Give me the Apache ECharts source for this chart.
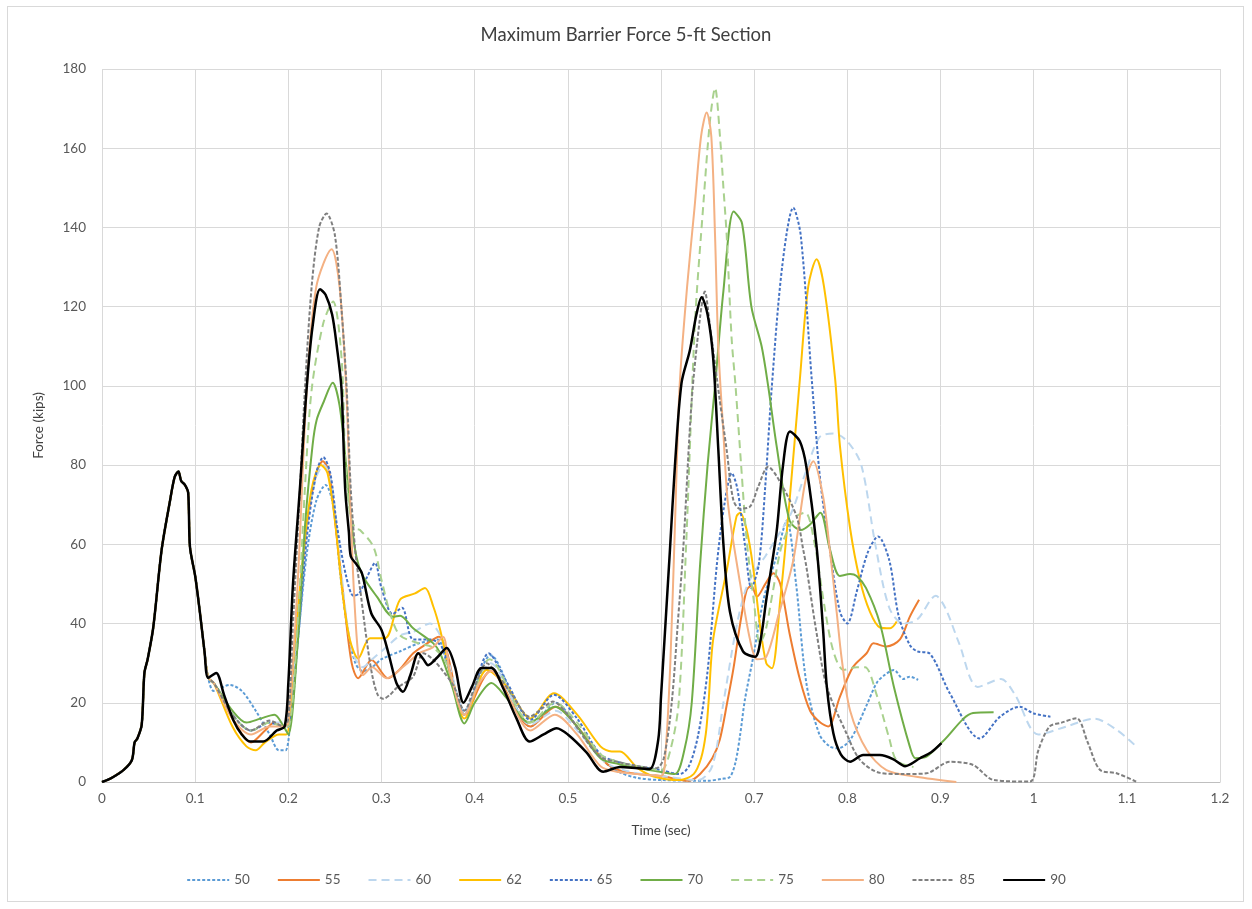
<!DOCTYPE html>
<html>
<head>
<meta charset="utf-8">
<script src="https://cdn.jsdelivr.net/npm/echarts@6/dist/echarts.min.js"></script>
<style>
html,body{margin:0;padding:0;background:#fff;}
#frame{position:absolute;left:7px;top:6px;width:1237px;height:896px;border:1px solid #d9d9d9;box-sizing:border-box;}
#chart{position:absolute;left:0;top:0;width:1252px;height:909px;}
</style>
</head>
<body>
<div id="frame"></div>
<div id="chart"></div>
<script>
// ---- Data (time in sec, force in kips) ----
const seriesNames = ['50','55','60','62','65','70','75','80','85','90'];
const xTicks = [0,0.1,0.2,0.3,0.4,0.5,0.6,0.7,0.8,0.9,1,1.1,1.2];
const yTicks = [0,20,40,60,80,100,120,140,160,180];

// first impact, identical for every test
const common = [[0,0],[0.01,1],[0.023,3],[0.032,5.5],[0.035,10],[0.038,11],[0.0426,14.4],[0.0455,27.5],[0.049,31],[0.055,39],[0.064,58.6],[0.073,71],[0.078,77],[0.082,78.4],[0.085,76],[0.089,75],[0.0925,73],[0.0944,59.4],[0.1,52],[0.105,43],[0.11,33],[0.114,26.3]];

const s50 = [[0.12,23],[0.137,24.5],[0.15,23],[0.165,18],[0.18,12],[0.19,8],[0.197,8],[0.202,15],[0.21,35],[0.22,58],[0.23,71],[0.24,75],[0.248,70],[0.256,52],[0.264,38],[0.272,30],[0.28,28],[0.29,29],[0.3,31],[0.32,33],[0.34,35],[0.36,36],[0.37,30],[0.389,18],[0.417,32],[0.46,14],[0.487,20],[0.51,14],[0.54,5],[0.555,2.5],[0.575,1],[0.6,0.5],[0.65,0.3],[0.665,0.8],[0.674,1.3],[0.68,5],[0.685,12],[0.69,20.7],[0.699,31.6],[0.71,46],[0.724,57],[0.735,66],[0.745,50],[0.756,25],[0.77,12],[0.781,9],[0.79,8.5],[0.803,10.6],[0.82,19],[0.8315,25],[0.84,27],[0.85,28.3],[0.86,26],[0.867,26.6],[0.876,25.8]];

const s55 = [[0.12,25],[0.14,16],[0.16,10],[0.175,13],[0.185,15],[0.195,14],[0.2,15],[0.21,40],[0.22,65],[0.23,78],[0.237,81],[0.244,78],[0.252,62],[0.26,45],[0.268,30],[0.275,26.2],[0.2894,30.8],[0.307,26.2],[0.319,28.3],[0.334,32.5],[0.3466,34.6],[0.3618,36.7],[0.37,33],[0.389,17],[0.417,28],[0.46,14],[0.487,19],[0.51,14],[0.54,5],[0.555,3],[0.575,2],[0.6,1.5],[0.63,0.3],[0.642,2],[0.655,6],[0.663,10.6],[0.671,20],[0.678,29],[0.685,40],[0.692,48.5],[0.697,49.5],[0.703,46.8],[0.712,50],[0.7206,52.7],[0.728,50],[0.738,37.5],[0.749,26],[0.76,18],[0.771,15],[0.7795,14],[0.792,21.5],[0.806,29],[0.8207,32.5],[0.828,35],[0.842,34.2],[0.8565,36],[0.867,41.7],[0.877,46]];

const s60 = [[0.12,25],[0.14,17],[0.16,13],[0.18,15],[0.195,15],[0.2,16],[0.21,40],[0.22,65],[0.23,77],[0.238,80],[0.246,76],[0.254,60],[0.262,42],[0.27,32],[0.28,29],[0.29,31],[0.305,34],[0.32,37],[0.335,38],[0.352,40],[0.365,36],[0.378,25],[0.389,18],[0.417,30],[0.46,14.5],[0.487,18],[0.51,13],[0.54,5],[0.56,3],[0.58,2],[0.6,1.5],[0.64,0.5],[0.655,4],[0.667,20],[0.68,38],[0.69,48],[0.7,53],[0.712,57],[0.725,62],[0.74,68],[0.755,78],[0.77,87],[0.785,88],[0.8,86],[0.815,80],[0.83,60],[0.845,44],[0.86,40],[0.875,41],[0.895,47],[0.905,44],[0.92,35],[0.94,24],[0.965,26],[0.98,22],[1.005,12],[1.035,14],[1.065,16],[1.09,13],[1.11,9]];

const s62 = [[0.12,25],[0.14,14],[0.155,9],[0.165,8],[0.175,10],[0.19,12],[0.198,12],[0.205,30],[0.215,55],[0.225,74],[0.235,80],[0.242,78],[0.25,66],[0.258,48],[0.266,36],[0.275,31.2],[0.2876,36.3],[0.3038,36.3],[0.3198,46],[0.336,47.6],[0.3467,49],[0.3556,44.3],[0.363,38.4],[0.375,26],[0.389,16],[0.4128,28.3],[0.435,24],[0.46,16],[0.485,22.4],[0.51,17],[0.535,9],[0.547,7.7],[0.556,7.7],[0.574,3.7],[0.592,1.4],[0.62,0.5],[0.635,2],[0.643,6],[0.648,12],[0.651,20],[0.656,36],[0.671,54],[0.681,67],[0.685,68],[0.692,63.6],[0.699,54],[0.706,40],[0.713,30],[0.719,28.7],[0.728,46],[0.738,71],[0.749,101.5],[0.758,125],[0.767,132],[0.775,125],[0.787,101.5],[0.792,85],[0.803,64],[0.8135,51],[0.8242,43],[0.835,39],[0.846,38.8],[0.853,40.5]];

const s65 = [[0.12,25],[0.14,17],[0.16,13],[0.18,15],[0.195,14],[0.2,14],[0.21,35],[0.22,62],[0.23,78],[0.2375,82],[0.245,78],[0.252,65],[0.262,52],[0.27,47],[0.276,47.6],[0.285,52],[0.293,55.3],[0.3,49],[0.312,42.4],[0.322,44],[0.334,36],[0.352,36],[0.365,34],[0.378,24],[0.389,17],[0.415,32.5],[0.435,25],[0.46,15.7],[0.485,22],[0.51,16],[0.535,7],[0.555,5],[0.575,4],[0.6,3],[0.62,2],[0.63,4],[0.64,12],[0.65,28],[0.66,55],[0.668,70],[0.676,78],[0.682,74],[0.69,60],[0.697,49],[0.705,55],[0.712,75],[0.719,100],[0.73,130],[0.742,145],[0.75,138],[0.762,101],[0.771,76],[0.781,59],[0.792,43],[0.8,40],[0.81,48],[0.822,58],[0.833,62],[0.845,56],[0.855,42],[0.867,34.6],[0.875,33],[0.889,32.3],[0.91,22.4],[0.942,11],[0.964,16.5],[0.985,19],[1.0,17.3],[1.018,16.5]];

const s70 = [[0.12,25],[0.14,18],[0.155,15],[0.17,16],[0.185,17],[0.195,14],[0.2,12],[0.21,35],[0.218,65],[0.226,85],[0.2304,91.4],[0.238,96],[0.2476,100.8],[0.255,95],[0.262,80],[0.268,65],[0.273,57],[0.28,52],[0.295,46.8],[0.3125,41.7],[0.32,42],[0.334,38.8],[0.3556,35],[0.363,32.5],[0.376,24],[0.389,14.8],[0.4,20],[0.418,25],[0.435,21],[0.459,15],[0.486,19],[0.51,14],[0.535,6],[0.555,4.5],[0.575,3.5],[0.6,2.5],[0.615,2],[0.625,8],[0.633,20],[0.642,55],[0.65,80],[0.658,100],[0.667,124],[0.678,144],[0.687,141],[0.697,120],[0.708,110],[0.715,100],[0.724,85],[0.738,66],[0.75,63.6],[0.76,65],[0.771,68],[0.781,59],[0.792,52],[0.803,52.5],[0.81,52],[0.82,49],[0.835,40],[0.85,24],[0.867,9],[0.873,6],[0.885,6.4],[0.904,10.6],[0.935,17.4],[0.957,17.6]];

const s75 = [[0.12,25],[0.14,17],[0.16,13],[0.18,15],[0.195,14],[0.2,14],[0.21,40],[0.218,75],[0.225,99],[0.2375,115.8],[0.248,121.3],[0.257,107.4],[0.261,82],[0.266,68],[0.272,64],[0.277,63.6],[0.2913,59.4],[0.3,51],[0.31,42],[0.32,37],[0.34,35],[0.355,34],[0.37,30],[0.389,17],[0.416,31],[0.46,15],[0.486,20],[0.51,15],[0.535,7],[0.555,5],[0.575,4],[0.6,3],[0.61,8],[0.619,20],[0.627,60],[0.6365,116],[0.6455,146],[0.6526,167],[0.658,175.2],[0.6633,163],[0.667,150],[0.6705,138],[0.6758,112],[0.68,100],[0.686,80],[0.692,61],[0.7,45],[0.706,35],[0.712,38],[0.72,48],[0.73,60],[0.745,67],[0.755,68],[0.765,60],[0.775,45],[0.785,33],[0.796,28.3],[0.81,29],[0.819,29],[0.8315,22],[0.845,11],[0.853,5.4],[0.871,3.8]];

const s80 = [[0.12,25],[0.14,16],[0.16,12],[0.18,14],[0.195,14],[0.2,15],[0.21,50],[0.22,100],[0.23,125],[0.2465,134.5],[0.255,125],[0.262,100],[0.266,74],[0.27,50],[0.275,32],[0.28,27],[0.29,29],[0.3055,26.2],[0.3233,29.1],[0.3404,32.5],[0.355,34],[0.366,36.7],[0.373,28.3],[0.389,17],[0.405,25],[0.418,28],[0.435,22],[0.46,13],[0.486,17],[0.51,12],[0.535,4],[0.555,2.5],[0.575,2],[0.6,1.5],[0.605,8],[0.61,30],[0.615,65],[0.62,100],[0.628,125],[0.636,145],[0.643,163],[0.649,169],[0.654,163],[0.658,138],[0.6615,110],[0.667,88],[0.672,70],[0.685,50],[0.6955,36],[0.703,31],[0.713,31.6],[0.726,42],[0.742,56],[0.755,76],[0.7635,81],[0.774,72],[0.781,59],[0.7885,43],[0.794,31],[0.803,18],[0.821,8],[0.842,3],[0.874,1.3],[0.917,0]];

const s85 = [[0.12,25],[0.14,17],[0.16,13],[0.18,15.5],[0.195,14],[0.2,16],[0.205,40],[0.2125,74],[0.218,100],[0.225,125],[0.233,140],[0.241,143.5],[0.25,138],[0.2575,118],[0.2626,99.5],[0.267,74],[0.272,58],[0.278,47],[0.284,36],[0.29,27],[0.296,22],[0.302,21],[0.309,22],[0.316,23.7],[0.325,25],[0.334,26.6],[0.345,32.5],[0.355,31],[0.366,28],[0.378,24],[0.389,18],[0.4,24],[0.413,30],[0.425,27],[0.44,22],[0.459,16.5],[0.472,18.5],[0.484,20.3],[0.5,17],[0.515,12],[0.5345,6.4],[0.555,5],[0.575,4],[0.595,3.5],[0.603,6],[0.6115,20],[0.618,40],[0.624,59.4],[0.633,96.5],[0.642,117.5],[0.647,123.8],[0.6526,115],[0.663,96.5],[0.6705,83.8],[0.6776,71.2],[0.6848,69],[0.6955,69.5],[0.7044,74.6],[0.715,79.6],[0.7277,75.8],[0.7456,67],[0.7527,58.6],[0.756,54.4],[0.767,37.6],[0.778,24],[0.799,12.3],[0.8135,5.6],[0.835,2.3],[0.86,2],[0.885,2.2],[0.91,5.1],[0.935,4.3],[0.957,0.5],[0.996,0.1],[1.005,8],[1.017,14],[1.03,15],[1.046,16.1],[1.058,10],[1.071,3.1],[1.089,2.2],[1.111,0]];

const s90 = [[0.1225,27.5],[0.131,22],[0.141,15.6],[0.15,12],[0.159,10.2],[0.173,10.2],[0.1875,13],[0.196,14],[0.2,25],[0.205,50],[0.2127,75],[0.2197,99.5],[0.226,115],[0.234,124.4],[0.24,123],[0.247,118],[0.252,110],[0.257,99.5],[0.261,74],[0.265,63],[0.267,57],[0.273,55],[0.279,52.7],[0.289,42.6],[0.3,38.4],[0.308,32],[0.316,25],[0.323,22.8],[0.331,27],[0.3395,32.5],[0.345,31],[0.35,29.5],[0.36,31.5],[0.37,33.8],[0.379,29],[0.388,20],[0.397,24],[0.4075,28.8],[0.418,28.8],[0.43,24],[0.445,16],[0.459,10.2],[0.474,12],[0.488,13.6],[0.5,12],[0.52,7.5],[0.538,2.6],[0.556,3.8],[0.575,3.5],[0.588,3.3],[0.597,10.6],[0.6,21.5],[0.6096,58.6],[0.615,80],[0.622,100.7],[0.631,109],[0.638,118],[0.6436,122.4],[0.65,118],[0.656,107],[0.6615,84],[0.667,60],[0.674,43],[0.688,33],[0.701,31.6],[0.707,36],[0.713,46],[0.724,63],[0.731,80],[0.7384,88.5],[0.749,86],[0.756,79.6],[0.767,59.4],[0.774,38.4],[0.778,24],[0.785,12.3],[0.793,7],[0.803,5.1],[0.817,6.8],[0.835,6.8],[0.849,5.8],[0.862,4],[0.878,6],[0.89,7.5],[0.901,9.8]];

const seriesData = [s50,s55,s60,s62,s65,s70,s75,s80,s85,s90];

// ---- Styles ----
const styles = [
  {color:'#5B9BD5', type:[3,2], width:2},
  {color:'#ED7D31', type:'solid', width:2},
  {color:'#BDD7EE', type:[8,5], width:2},
  {color:'#FFC000', type:'solid', width:2},
  {color:'#4472C4', type:[3,2], width:2},
  {color:'#70AD47', type:'solid', width:2},
  {color:'#A9D18E', type:[8,5], width:2},
  {color:'#F4B183', type:'solid', width:2},
  {color:'#7F7F7F', type:[4,2], width:2},
  {color:'#000000', type:'solid', width:2.5}
];

const FONT = 'Lato, "Open Sans", sans-serif';
const chart = echarts.init(document.getElementById('chart'), null, {renderer:'canvas'});
chart.setOption({
  animation:false,
  backgroundColor:'transparent',
  title:{
    text:'Maximum Barrier Force 5-ft Section',
    left:'center', top:21,
    textStyle:{fontFamily:FONT, fontSize:18.5, fontWeight:'normal', color:'#404040'}
  },
  grid:{left:102, right:32, top:69, bottom:127, containLabel:false},
  legend:{
    bottom:17, left:'center',
    itemWidth:42, itemHeight:12, itemGap:27,
    itemStyle:{opacity:0},
    textStyle:{fontFamily:FONT, fontSize:13.5, color:'#595959'},
    data:seriesNames
  },
  xAxis:{
    type:'value', min:0, max:1.2, interval:0.1,
    name:'Time (sec)', nameLocation:'middle', nameGap:42,
    nameTextStyle:{fontFamily:FONT, fontSize:13.5, color:'#404040'},
    axisLine:{show:true, lineStyle:{color:'#bfbfbf', width:1}},
    axisTick:{show:false},
    axisLabel:{fontFamily:FONT, fontSize:13.5, color:'#595959', margin:10,
      formatter:v=>String(Math.round(v*10)/10)},
    splitLine:{show:true, lineStyle:{color:'#d9d9d9', width:1}}
  },
  yAxis:{
    type:'value', min:0, max:180, interval:20,
    name:'Force (kips)', nameLocation:'middle', nameGap:56, nameRotate:90,
    nameTextStyle:{fontFamily:FONT, fontSize:13.5, color:'#404040'},
    axisLine:{show:false},
    axisTick:{show:false},
    axisLabel:{fontFamily:FONT, fontSize:13.5, color:'#595959', margin:16},
    splitLine:{show:true, lineStyle:{color:'#d9d9d9', width:1}}
  },
  series: seriesNames.map((n,i)=>({
    name:n, type:'line',
    data: common.concat(seriesData[i]),
    showSymbol:false, symbol:'none',
    smooth:0.3,
    lineStyle:{color:styles[i].color, type:styles[i].type, width:styles[i].width},
    itemStyle:{color:styles[i].color},
    z:2+i
  }))
});
</script>
</body>
</html>
